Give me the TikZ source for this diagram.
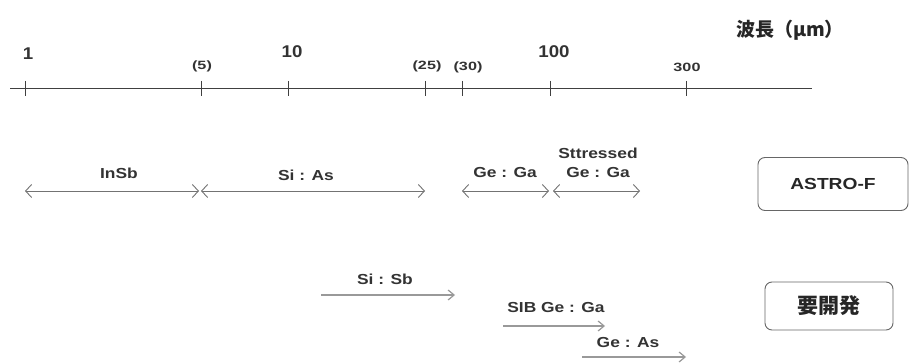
\documentclass[tikz,border=0pt]{standalone}
\usepackage{fontspec}
\setmainfont{Liberation Sans}
\newfontfamily\cjk{Noto Sans CJK JP}
\newfontfamily\lblfont[FakeStretch=1.2]{Liberation Sans}
\newfontfamily\numfont[FakeStretch=1.1]{Liberation Sans}
\newfontfamily\smfont[FakeStretch=1.35]{Liberation Sans}
\usetikzlibrary{arrows.meta}
\begin{document}
\begin{tikzpicture}[x=1pt,y=-1pt,
  lbl/.style={font=\lblfont\bfseries\fontsize{14.5}{16}\selectfont, text=black!80, inner sep=1pt},
  small/.style={font=\smfont\bfseries\fontsize{12}{13}\selectfont, text=black!80, inner sep=1pt},
  big/.style={font=\numfont\bfseries\fontsize{17}{19}\selectfont, text=black!80, inner sep=1pt},
  tick/.style={draw=black!75, line width=0.8pt},
  rng/.style={draw=black!55, line width=0.9pt, {Straight Barb[length=6pt,width=13pt]}-{Straight Barb[length=6pt,width=13pt]}},
  dev/.style={draw=black!40, line width=1.2pt, -{Straight Barb[length=6pt,width=10pt]}},
  tag/.style={draw=black!60, rounded corners=7pt, line width=0.9pt, text=black!85}]
\useasboundingbox (0,0) rectangle (911,363);
% axis
\coordinate (a0) at (10,88);
\coordinate (a1) at (812,88);
\draw[draw=black!75, line width=0.9pt] (a0) -- (a1);
\foreach \n/\x in {t1/25,t5/201,t10/288,t25/425,t30/462,t100/550,t300/686}{
  \coordinate (\n) at (\x,88);
  \draw[tick] (\x,81) -- (\x,96);
}
\node[big] (l1) at (28,54) {1};
\node[small] (l5) at (202,66) {(5)};
\node[big] (l10) at (292,52) {10};
\node[small] (l25) at (427,66) {(25)};
\node[small] (l30) at (468,67) {(30)};
\node[big] (l100) at (554,52) {100};
\node[small] (l300) at (687,67) {300};
\node[font=\cjk\bfseries\fontsize{19}{21}\selectfont, text=black!85] (unit) at (790,30) {波長（\textmu m）};
% ASTRO-F ranges
\coordinate (r1a) at (25,191); \coordinate (r1b) at (199,191);
\coordinate (r2a) at (201,191); \coordinate (r2b) at (425,191);
\coordinate (r3a) at (462,191); \coordinate (r3b) at (549,191);
\coordinate (r4a) at (553,191); \coordinate (r4b) at (640,191);
\draw[rng] (r1a) -- (r1b);
\draw[rng] (r2a) -- (r2b);
\draw[rng] (r3a) -- (r3b);
\draw[rng] (r4a) -- (r4b);
\node[lbl] (insb) at (119,173) {InSb};
\node[lbl] (sias) at (306,175) {Si : As};
\node[lbl] (gega) at (505,173) {Ge : Ga};
\node[lbl] (sttr) at (598,153) {Sttressed};
\node[lbl] (sgega) at (598,173) {Ge : Ga};
\node[tag, font=\lblfont\bfseries\fontsize{16}{19}\selectfont, minimum width=150pt, minimum height=53pt] (astro) at (833,184) {ASTRO-F};
% development
\coordinate (d1a) at (321,295); \coordinate (d1b) at (455,295);
\coordinate (d2a) at (503,326); \coordinate (d2b) at (605,326);
\coordinate (d3a) at (582,357); \coordinate (d3b) at (686,357);
\draw[dev] (d1a) -- (d1b);
\draw[dev] (d2a) -- (d2b);
\draw[dev] (d3a) -- (d3b);
\node[lbl] (sisb) at (385,279) {Si : Sb};
\node[lbl] (sib) at (556,308) {SIB Ge : Ga};
\node[lbl] (geas) at (628,343) {Ge : As};
\node[tag, font=\cjk\bfseries\fontsize{21}{23}\selectfont, minimum width=128pt, minimum height=48pt] (dev) at (829,306) {要開発};
\end{tikzpicture}
\end{document}
